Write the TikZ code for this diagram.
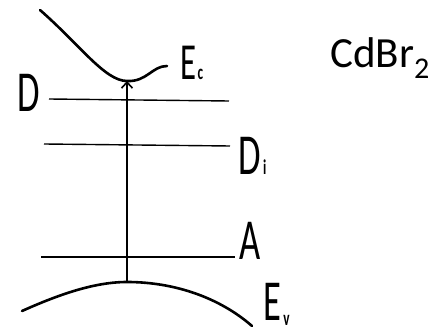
\documentclass[tikz,border=0pt]{standalone}
\usepackage{fontspec}
\setmainfont{Carlito}
\usetikzlibrary{arrows.meta}
\tikzset{
  band/.style={line width=2.6pt, line cap=round},
  level/.style={line width=1.4pt},
  lab/.style={inner sep=0pt, font=\fontsize{58}{58}\selectfont},
  labsm/.style={inner sep=0pt, font=\fontsize{52}{52}\selectfont},
  sub/.style={inner sep=0pt, font=\fontsize{21}{21}\selectfont\bfseries},
}
\newcommand{\nar}[1]{\scalebox{0.63}[1]{#1}}
\begin{document}
\begin{tikzpicture}[x=1pt,y=-1pt]
\useasboundingbox (0,0) rectangle (442,331);
% conduction band
\coordinate (ecmin) at (127,81);
\draw[band] (40,10) .. controls (80,45) and (105,81) .. (ecmin) .. controls (147,82) and (152,66) .. (167,66);
% valence band
\coordinate (evtop) at (127,282);
\draw[band] (22,311) .. controls (60,294) and (95,282) .. (evtop) .. controls (175,282) and (220,298) .. (252,326);
% levels
\coordinate (d1) at (49,99); \coordinate (d2) at (229,101);
\coordinate (i1) at (44,144); \coordinate (i2) at (230,146);
\coordinate (a1) at (41,257); \coordinate (a2) at (235,257);
\draw[level] (d1) -- (d2);
\draw[level] (i1) -- (i2);
\draw[level] (a1) -- (a2);
% transition arrow
\draw[line width=1.6pt, -{Straight Barb[length=6pt,width=11pt,line width=1.6pt]}] (evtop) -- (ecmin);
% labels
\node[labsm, anchor=base west] (ecl) at (180,80) {\nar{E}};
\node[sub, anchor=base west, xshift=1pt] (ecs) at (ecl.base east) {\nar{c}};
\node[lab, anchor=base west] (dl) at (17,112) {\nar{D}};
\node[lab, anchor=base west] (dil) at (238,175) {\nar{D}};
\node[sub, anchor=base west, xshift=2pt] (dis) at (dil.base east) {\nar{i}};
\node[lab, anchor=base west] (al) at (239,260) {\nar{A}};
\node[lab, anchor=base west] (evl) at (263,320) {\nar{E}};
\node[sub, anchor=base west, xshift=2pt, yshift=-5pt] (evs) at (evl.base east) {\nar{v}};
\node[inner sep=0pt, anchor=base west, font=\fontsize{43}{43}\selectfont] (cd) at (330,68) {CdBr\textsubscript{2}};
\end{tikzpicture}
\end{document}
